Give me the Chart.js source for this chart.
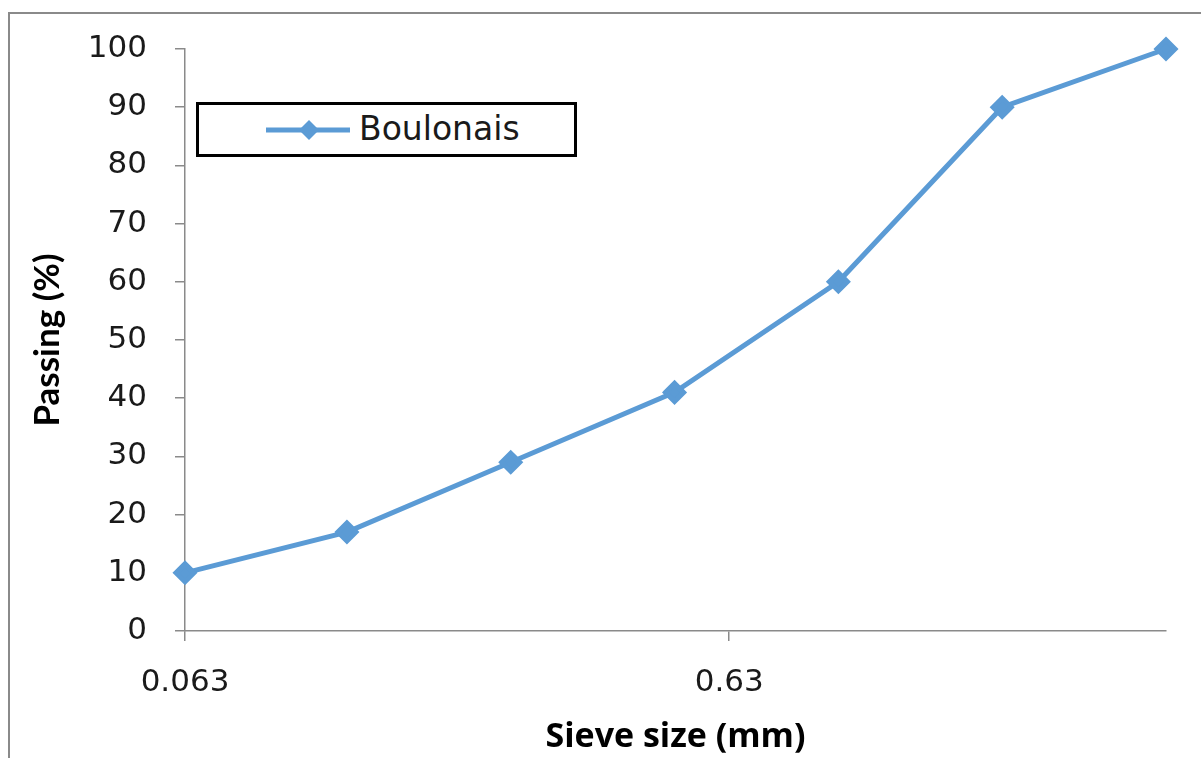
<!DOCTYPE html>
<html>
<head>
<meta charset="utf-8">
<script src="https://cdn.jsdelivr.net/npm/chart.js@4.4.1/dist/chart.umd.min.js"></script>
<style>
  body { margin: 0; background: #fff; }
  #wrap { position: relative; width: 1201px; height: 758px; overflow: hidden; }
  #frame { position: absolute; left: 8px; top: 12px; width: 1300px; height: 900px; border-left: 2px solid #8a8a8a; border-top: 2px solid #8a8a8a; }
  #legend { position: absolute; left: 196px; top: 102px; width: 375px; height: 49px; border: 3px solid #000; background: #fff;
    font-family: "DejaVu Sans", sans-serif; font-size: 33px; color: #1a1a1a; }
  #legend svg { position: absolute; left: 65px; top: 10px; }
  #legend span { position: absolute; left: 160px; top: 4px; }
</style>
</head>
<body>
<div id="wrap">
  <div id="frame"></div>
  <canvas id="myChart" width="1201" height="758"></canvas>
  <div id="legend">
    <svg width="90" height="30"><line x1="2" y1="15" x2="86" y2="15" stroke="#5b9bd5" stroke-width="5"/><polygon points="45,5 55,15 45,25 35,15" fill="#5b9bd5"/></svg>
    <span id="legend-text"></span>
  </div>
</div>
<script>
'use strict';

// DATA
let seriesName = 'Boulonais';
let sieveSizes = [0.063, 0.125, 0.25, 0.5, 1, 2, 4];
let passing = [10, 17, 29, 41, 60, 90, 100];
let xTicks = [0.063, 0.63];

let lineColor = '#5b9bd5';
let axisColor = '#8a8a8a';

document.getElementById('legend-text').textContent = seriesName;

let points = [];
for (let i = 0; i < sieveSizes.length; i++) {
  points.push({ x: sieveSizes[i], y: passing[i] });
}

const ctx = document.getElementById('myChart');
const myChart = new Chart(ctx, {
  type: 'line',
  data: {
    datasets: [{
      label: seriesName,
      data: points,
      borderColor: lineColor,
      backgroundColor: lineColor,
      borderWidth: 5,
      pointStyle: 'rectRot',
      pointRadius: 9,
      pointHoverRadius: 9,
      tension: 0,
      clip: false
    }]
  },
  options: {
    responsive: false,
    animation: false,
    layout: { autoPadding: false, padding: { top: 49, right: 35, left: 0, bottom: 0 } },
    plugins: { legend: { display: false }, tooltip: { enabled: false } },
    scales: {
      x: {
        type: 'logarithmic',
        min: 0.063,
        max: 4,
        afterBuildTicks: function(scale) {
          scale.ticks = xTicks.map(function(v) { return { value: v }; });
        },
        afterFit: function(scale) { scale.height = 127; },
        ticks: {
          color: '#1a1a1a',
          font: { family: 'DejaVu Sans', size: 31 },
          padding: 23,
          maxRotation: 0,
          callback: function(value) { return String(value); }
        },
        grid: { drawOnChartArea: false, color: axisColor, tickLength: 10, lineWidth: 1.5 },
        border: { color: axisColor, width: 1.5 },
        title: {
          display: true,
          text: 'Sieve size (mm)',
          color: '#000',
          font: { family: 'Open Sans', size: 34, weight: 'bold' },
          padding: { top: 0, bottom: 0 }
        }
      },
      y: {
        min: 0,
        max: 100,
        afterFit: function(scale) { scale.width = 185; },
        ticks: {
          stepSize: 10,
          color: '#1a1a1a',
          font: { family: 'DejaVu Sans', size: 31 },
          padding: 28
        },
        grid: { drawOnChartArea: false, color: axisColor, tickLength: 10, lineWidth: 1.5 },
        border: { color: axisColor, width: 1.5 },
        title: {
          display: true,
          text: 'Passing (%)',
          color: '#000',
          font: { family: 'Lato', size: 35, weight: 'bold' },
          padding: { top: 27, bottom: 0 }
        }
      }
    }
  }
});
</script>
</body>
</html>
